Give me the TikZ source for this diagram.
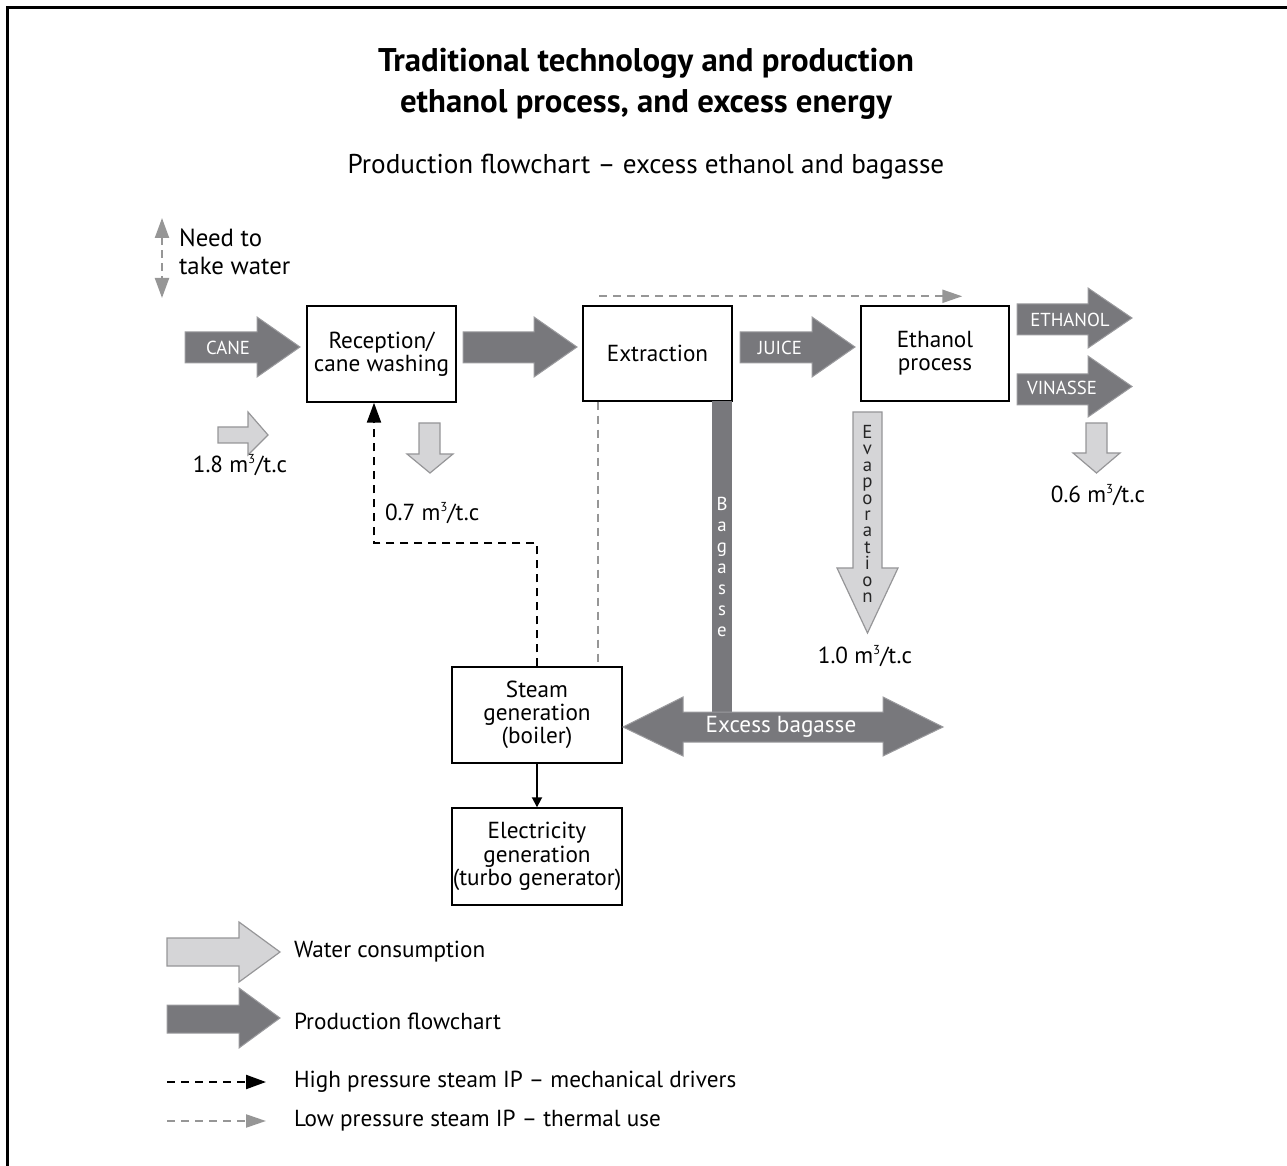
\documentclass[tikz,border=0pt]{standalone}
\usepackage{fontspec}
\setmainfont{PT Sans}
\usetikzlibrary{arrows.meta}
\definecolor{flowdark}{RGB}{120,120,124}
\definecolor{flowdarkedge}{RGB}{155,155,158}
\definecolor{flowlight}{RGB}{213,213,215}
\definecolor{flowlightedge}{RGB}{150,150,152}
\definecolor{steamgray}{RGB}{150,150,150}
\newcommand{\txtfont}{\fontsize{11.6}{11.6}\selectfont}
\newcommand{\capsfont}{\fontsize{9.4}{10}\selectfont}
\newcommand{\lettersfont}{\fontsize{9.4}{8.2}\selectfont}
\newcommand{\perton}{m\raisebox{0.75ex}{\fontsize{6.5}{7}\selectfont 3}/t.c}
\tikzset{
  box/.style={draw, line width=0.7pt, align=center, font=\txtfont, inner sep=0pt},
  prodarrow/.style={fill=flowdark, draw=flowdarkedge, line width=0.5pt, line join=miter},
  waterarrow/.style={fill=flowlight, draw=flowlightedge, line width=0.6pt, line join=miter},
  onarrow/.style={font=\capsfont, text=white},
  label/.style={font=\txtfont, align=left},
  hpsteam/.style={draw=black, line width=1.1pt, dash pattern=on 4pt off 3pt, -{Triangle[length=10pt,width=7pt]}},
  lpsteam/.style={draw=steamgray, line width=1.1pt, dash pattern=on 4pt off 3pt, -{Triangle[length=10pt,width=6.5pt]}},
}
\begin{document}
\begin{tikzpicture}[x=0.5pt, y=-0.5pt]
\useasboundingbox (0,0) rectangle (1287,1166);
% frame
\draw[line width=1.2pt] (7.5,1166) -- (7.5,7.5) -- (1287,7.5);

% titles
\node[font=\fontsize{16.4}{20.5}\selectfont\bfseries, align=center] (title) at (646,84) {Traditional technology and production\\ethanol process, and excess energy};
\node[font=\fontsize{13.6}{15}\selectfont] (subtitle) at (646,167) {Production flowchart -- excess ethanol and bagasse};

% need to take water
\coordinate (needtop) at (162,218);
\coordinate (needbot) at (162,298);
\draw[draw=steamgray, line width=1.1pt, dash pattern=on 4pt off 2.5pt, {Triangle[length=10pt,width=7pt]}-{Triangle[length=10pt,width=7pt]}] (needtop) -- (needbot);
\node[label, anchor=west, font=\fontsize{12.4}{14}\selectfont] (need) at (172,252) {Need to\\take water};

% boxes
\node[box, minimum width=74.5pt, minimum height=48pt] (rec) at (381.5,354) {Reception/\\cane washing};
\node[box, minimum width=74.5pt, minimum height=47.5pt] (extr) at (657.5,353.5) {Extraction};
\node[box, minimum width=74pt, minimum height=47.5pt] (eth) at (935,353.5) {Ethanol\\process};
\node[box, minimum width=85pt, minimum height=48pt] (steam) at (537,715) {Steam\\generation\\(boiler)};
\node[box, minimum width=85pt, minimum height=48.5pt] (elec) at (537,856.5) {Electricity\\generation\\(turbo generator)};

% production arrows
\filldraw[prodarrow] (185,332) -- (257,332) -- (257,317) -- (300,347) -- (257,377) -- (257,363) -- (185,363) -- cycle;
\node[onarrow] (cane) at (228,348) {CANE};
\filldraw[prodarrow] (463,332) -- (534,332) -- (534,317) -- (577,347) -- (534,377) -- (534,363) -- (463,363) -- cycle;
\filldraw[prodarrow] (740,332) -- (812,332) -- (812,317) -- (855,347) -- (812,377) -- (812,363) -- (740,363) -- cycle;
\node[onarrow] (juice) at (780,348) {JUICE};
\filldraw[prodarrow] (1017,304) -- (1088,304) -- (1088,288) -- (1132,318) -- (1088,348) -- (1088,335) -- (1017,335) -- cycle;
\node[onarrow] (ethanol) at (1070,320) {ETHANOL};
\filldraw[prodarrow] (1017,374) -- (1088,374) -- (1088,356) -- (1132,386.5) -- (1088,417) -- (1088,405) -- (1017,405) -- cycle;
\node[onarrow] (vinasse) at (1062,388) {VINASSE};

% bagasse
\fill[flowdark] (712,401) rectangle (732,713);
\node[text=white, align=center, font=\fontsize{9.4}{10.5}\selectfont] (bagasse) at (722,567) {B\\a\\g\\a\\s\\s\\e};
\filldraw[prodarrow] (623,727) -- (683,697) -- (683,712) -- (883,712) -- (883,697) -- (943,727) -- (883,756) -- (883,742) -- (683,742) -- (683,756) -- cycle;
\node[font=\txtfont, text=white] (excess) at (781,727) {Excess bagasse};

% water arrows
\filldraw[waterarrow] (853,412) -- (882,412) -- (882,568) -- (898,568) -- (867.5,633) -- (837,568) -- (853,568) -- cycle;
\node[font=\lettersfont, align=center, text=black!85] (evap) at (867.5,514) {E\\v\\a\\p\\o\\r\\a\\t\\i\\o\\n};
\node[label] (evapval) at (865,656) {1.0 \perton};
\filldraw[waterarrow] (1086,423) -- (1107,423) -- (1107,453) -- (1120,453) -- (1096.5,473) -- (1073,453) -- (1086,453) -- cycle;
\node[label] (vinval) at (1098,495) {0.6 \perton};
\filldraw[waterarrow] (419,423) -- (440,423) -- (440,454) -- (453,454) -- (430,473) -- (407,454) -- (419,454) -- cycle;
\node[label, anchor=west] (recval) at (378,513) {0.7 \perton};
\filldraw[waterarrow] (218,427) -- (248,427) -- (248,412) -- (268,435) -- (248,455) -- (248,443) -- (218,443) -- cycle;
\node[label] (caneval) at (240,465) {1.8 \perton};

% steam lines
\coordinate (hpbend) at (374,543);
\draw[hpsteam] (steam.north) |- (hpbend) -- (hpbend |- rec.south);
\draw[lpsteam, -] ([xshift=8pt]extr.south west) -- ([xshift=8pt]extr.south west |- steam.north);
\draw[lpsteam] ([xshift=8.5pt,yshift=4.5pt]extr.north west) -- ([xshift=51pt,yshift=4.5pt]eth.north west);
\draw[-{Triangle[length=5pt,width=5pt]}, line width=0.9pt] (steam.south) -- (elec.north);

% legend
\filldraw[waterarrow] (167,938) -- (239,938) -- (239,922) -- (280,952) -- (239,982) -- (239,966) -- (167,966) -- cycle;
\node[label, anchor=west] (legwater) at (287,952) {Water consumption};
\filldraw[prodarrow] (167,1005) -- (239,1005) -- (239,988) -- (280,1018) -- (239,1048) -- (239,1033) -- (167,1033) -- cycle;
\node[label, anchor=west] (legprod) at (287,1021) {Production flowchart};
\coordinate (hpA) at (167,1082);
\coordinate (hpB) at (266,1082);
\draw[hpsteam] (hpA) -- (hpB);
\node[label, anchor=west] (leghp) at (287,1082) {High pressure steam IP -- mechanical drivers};
\coordinate (lpA) at (167,1121);
\coordinate (lpB) at (266,1121);
\draw[lpsteam] (lpA) -- (lpB);
\node[label, anchor=west] (leglp) at (287,1121) {Low pressure steam IP -- thermal use};
\end{tikzpicture}
\end{document}
